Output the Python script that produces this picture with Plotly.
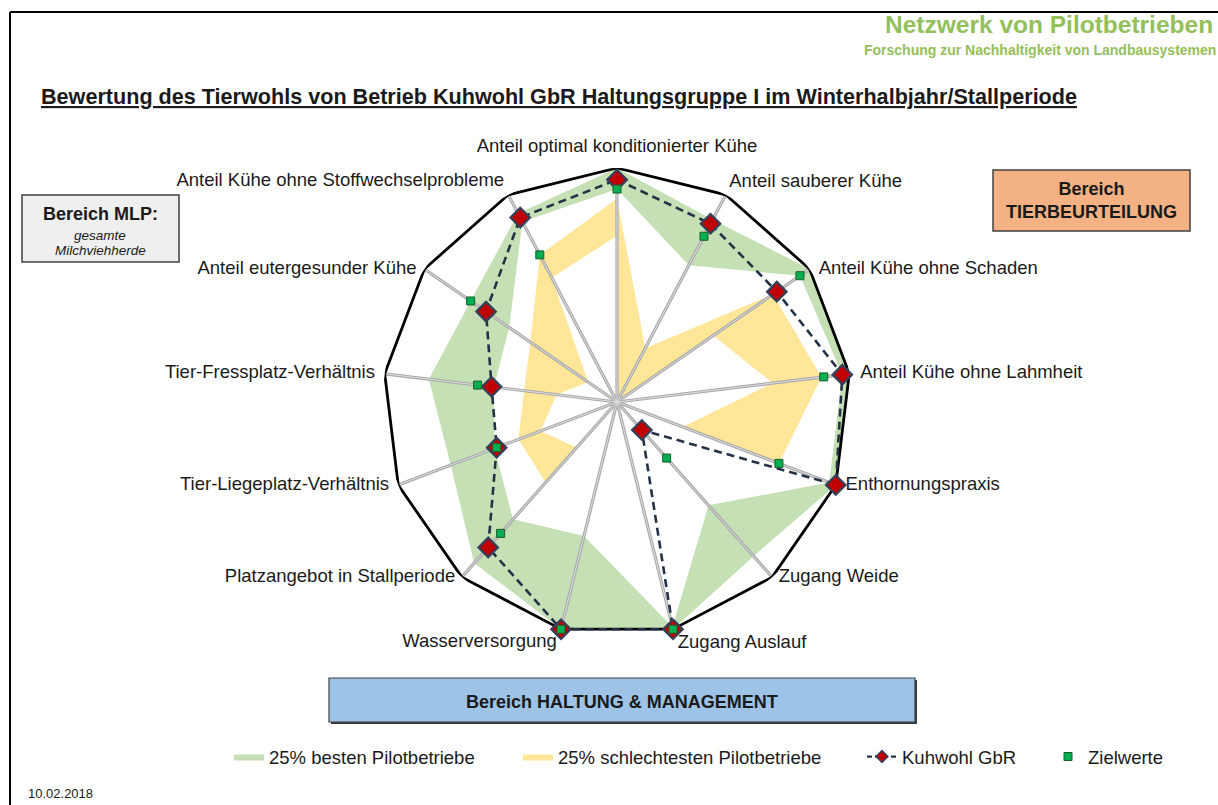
import plotly.graph_objects as go

# ---------------- data ----------------
CATEGORIES = [
    "Anteil optimal konditionierter Kühe",
    "Anteil sauberer Kühe",
    "Anteil Kühe ohne Schaden",
    "Anteil Kühe ohne Lahmheit",
    "Enthornungspraxis",
    "Zugang Weide",
    "Zugang Auslauf",
    "Wasserversorgung",
    "Platzangebot in Stallperiode",
    "Tier-Liegeplatz-Verhältnis",
    "Tier-Fressplatz-Verhältnis",
    "Anteil eutergesunder Kühe",
    "Anteil Kühe ohne Stoffwechselprobleme",
]
KUHWOHL = [95, 86, 83, 97, 100, 16, 100, 100, 83, 55, 54, 68, 89]
ZIELWERTE = [91, 80, 95, 89, 74, 32, 100, 100, 75, 55, 60, 76, 71]
BEST25_UPPER = [100, 88, 100, 100, 100, 88, 100, 100, 92, 76, 81, 76, 91]
BEST25_LOWER = [91, 66, 95, 97, 97, 59, 99, 59, 67, 56, 53, 56, 87]
WORST25_UPPER = [87, 26, 81, 88, 74, 0, 0, 0, 46, 45, 40, 45, 71]
WORST25_LOWER = [71, 0, 50, 67, 30, 0, 0, 0, 26, 35, 26, 15, 60]
SCALE_MAX = 100

# label placement (style only)
LABEL_POS = ["top center", "top right", "middle right", "middle right", "middle right",
             "middle right", "bottom right", "bottom left", "middle left", "middle left",
             "middle left", "middle left", "top left"]
LABEL_GAP = [17, 4, 13, 16, 14, 9, 6, 5, 9, 13, 14, 11, 5]

W, H = 1218, 805
FONT = "Liberation Sans, Arial, sans-serif"
GREEN_FILL = "#c5e0b4"
YELLOW_FILL = "#ffe699"
NAVY = "#243247"


def closed(v):
    return list(v) + list(v[:1])


THETA_C = closed(CATEGORIES)


def px(x):
    return x / W


def py(y):
    return 1 - y / H


fig = go.Figure()

# band: 25% best (green) -> upper filled green, lower filled white
fig.add_trace(go.Scatterpolar(r=closed(BEST25_UPPER), theta=THETA_C, fill="toself",
                              fillcolor=GREEN_FILL, mode="lines",
                              line=dict(width=0, color=GREEN_FILL),
                              name="25% besten Pilotbetriebe", legend="legend",
                              hoverinfo="skip"))
fig.add_trace(go.Scatterpolar(r=closed(BEST25_LOWER), theta=THETA_C, fill="toself",
                              fillcolor="white", mode="lines",
                              line=dict(width=0, color="white"),
                              showlegend=False, hoverinfo="skip"))
# band: 25% worst (yellow)
fig.add_trace(go.Scatterpolar(r=closed(WORST25_UPPER), theta=THETA_C, fill="toself",
                              fillcolor=YELLOW_FILL, mode="lines",
                              line=dict(width=0, color=YELLOW_FILL),
                              name="25% schlechtesten Pilotbetriebe", legend="legend2",
                              hoverinfo="skip"))
fig.add_trace(go.Scatterpolar(r=closed(WORST25_LOWER), theta=THETA_C, fill="toself",
                              fillcolor="white", mode="lines",
                              line=dict(width=0, color="white"),
                              showlegend=False, hoverinfo="skip"))

# spokes
sr, st = [], []
for c in CATEGORIES:
    sr += [0, SCALE_MAX, None]
    st += [c, c, None]
fig.add_trace(go.Scatterpolar(r=sr, theta=st, mode="lines",
                              line=dict(color="#a9a9a9", width=3.2),
                              showlegend=False, hoverinfo="skip"))
fig.add_trace(go.Scatterpolar(r=sr, theta=st, mode="lines",
                              line=dict(color="#dedede", width=1),
                              showlegend=False, hoverinfo="skip"))

# outer frame polygon
fig.add_trace(go.Scatterpolar(r=closed([SCALE_MAX] * len(CATEGORIES)), theta=THETA_C,
                              mode="lines", line=dict(color="black", width=2.8),
                              showlegend=False, hoverinfo="skip"))

# category labels (invisible markers only set the text gap)
fig.add_trace(go.Scatterpolar(r=[SCALE_MAX] * len(CATEGORIES), theta=CATEGORIES,
                              mode="markers+text", text=CATEGORIES, textposition=LABEL_POS,
                              marker=dict(size=LABEL_GAP, color="white", opacity=0,
                                          line=dict(width=0)),
                              textfont=dict(family=FONT, size=18.5, color="#1a1a1a"),
                              showlegend=False, hoverinfo="skip"))

# Kuhwohl GbR
fig.add_trace(go.Scatterpolar(r=closed(KUHWOHL), theta=THETA_C, mode="lines+markers",
                              line=dict(color=NAVY, width=2.6, dash="8px,5px"),
                              marker=dict(symbol="diamond", size=15, color="#c00000",
                                          line=dict(color="#33415a", width=2.2)),
                              name="Kuhwohl GbR", showlegend=False))
# legend entry for Kuhwohl GbR (smaller symbol, as in the legend of the original)
fig.add_trace(go.Scatterpolar(r=[None], theta=[None], mode="lines+markers",
                              line=dict(color=NAVY, width=2.2, dash="5px,3px"),
                              marker=dict(symbol="diamond", size=9, color="#c00000",
                                          line=dict(color="#33415a", width=1.5)),
                              name="Kuhwohl GbR", legend="legend3", hoverinfo="skip"))
# Zielwerte
fig.add_trace(go.Scatterpolar(r=ZIELWERTE, theta=CATEGORIES, mode="markers",
                              marker=dict(symbol="square", size=8, color="#00b050",
                                          line=dict(color="#1e5c2a", width=1)),
                              name="Zielwerte", legend="legend4"))

R = 234
cx, cy = 617, 402
fig.update_layout(
    width=W, height=H,
    margin=dict(l=0, r=0, t=0, b=0),
    paper_bgcolor="white",
    font=dict(family=FONT, color="#1a1a1a"),
    polar=dict(
        domain=dict(x=[px(cx - R), px(cx + R)], y=[py(cy + R), py(cy - R)]),
        bgcolor="rgba(0,0,0,0)",
        radialaxis=dict(range=[0, SCALE_MAX], visible=False),
        angularaxis=dict(type="category", categoryarray=CATEGORIES, direction="clockwise",
                         rotation=90, showgrid=False, showline=False,
                         showticklabels=False, ticks=""),
    ),
)

leg_common = dict(orientation="h", yanchor="middle", xanchor="left",
                  font=dict(family=FONT, size=18.5, color="#1a1a1a"),
                  bgcolor="rgba(0,0,0,0)", borderwidth=0)
fig.update_layout(
    legend=dict(x=px(229), y=py(757), **leg_common),
    legend2=dict(x=px(518), y=py(757), **leg_common),
    legend3=dict(x=px(862), y=py(757), **leg_common),
    legend4=dict(x=px(1048), y=py(757), **leg_common),
)

shapes = [
    dict(type="line", xref="paper", yref="paper", x0=px(10), x1=px(1218), y0=py(12), y1=py(12),
         line=dict(color="black", width=2)),
    dict(type="line", xref="paper", yref="paper", x0=px(10), x1=px(10), y0=py(12), y1=py(805),
         line=dict(color="black", width=2)),
    # MLP box
    dict(type="rect", xref="paper", yref="paper", x0=px(22), x1=px(179), y0=py(195), y1=py(262),
         fillcolor="#efefef", line=dict(color="#404040", width=1.5)),
    # Tierbeurteilung box
    dict(type="rect", xref="paper", yref="paper", x0=px(993), x1=px(1190), y0=py(170), y1=py(231),
         fillcolor="#f4b183", line=dict(color="#404040", width=1.5)),
    # Haltung box shadow + box
    dict(type="rect", xref="paper", yref="paper", x0=px(331), x1=px(917), y0=py(680), y1=py(724),
         fillcolor="#3a3a3a", line=dict(width=0)),
    dict(type="rect", xref="paper", yref="paper", x0=px(329), x1=px(915), y0=py(678), y1=py(722),
         fillcolor="#9dc3e6", line=dict(color="#404040", width=1.2)),
]

ann = [
    dict(x=px(1215), y=py(25), text="<b>Netzwerk von Pilotbetrieben</b>", xanchor="right",
         yanchor="middle", font=dict(size=24.5, color="#93c05a")),
    dict(x=px(1218), y=py(50), text="<b>Forschung zur Nachhaltigkeit von Landbausystemen</b>",
         xanchor="right", yanchor="middle", font=dict(size=14, color="#93c05a")),
    dict(x=px(39), y=py(97),
         text="<b><u>Bewertung des Tierwohls von Betrieb Kuhwohl GbR Haltungsgruppe I im Winterhalbjahr/Stallperiode</u></b>",
         xanchor="left", yanchor="middle", font=dict(size=21.6, color="#1a1a1a")),
    dict(x=px(100), y=py(214), text="<b>Bereich MLP:</b>", xanchor="center", yanchor="middle",
         font=dict(size=18, color="#1a1a1a")),
    dict(x=px(100), y=py(235), text="<i>gesamte</i>", xanchor="center", yanchor="middle",
         font=dict(size=13.5, color="#1a1a1a")),
    dict(x=px(100), y=py(251), text="<i>Milchviehherde</i>", xanchor="center", yanchor="middle",
         font=dict(size=13.5, color="#1a1a1a")),
    dict(x=px(1091), y=py(200), text="<b>Bereich<br>TIERBEURTEILUNG</b>", xanchor="center",
         yanchor="middle", font=dict(size=18, color="#1a1a1a")),
    dict(x=px(622), y=py(702), text="<b>Bereich HALTUNG & MANAGEMENT</b>", xanchor="center",
         yanchor="middle", font=dict(size=18, color="#1a1a1a")),
    dict(x=px(26), y=py(793), text="10.02.2018", xanchor="left", yanchor="middle",
         font=dict(size=13, color="#1a1a1a")),
]
for a in ann:
    a.update(xref="paper", yref="paper", showarrow=False)
    a["font"]["family"] = FONT

fig.update_layout(shapes=shapes, annotations=ann)

fig.write_html("out.html", config={"displayModeBar": False},
               post_script="document.body.style.margin='0';document.body.style.overflow='hidden';")
